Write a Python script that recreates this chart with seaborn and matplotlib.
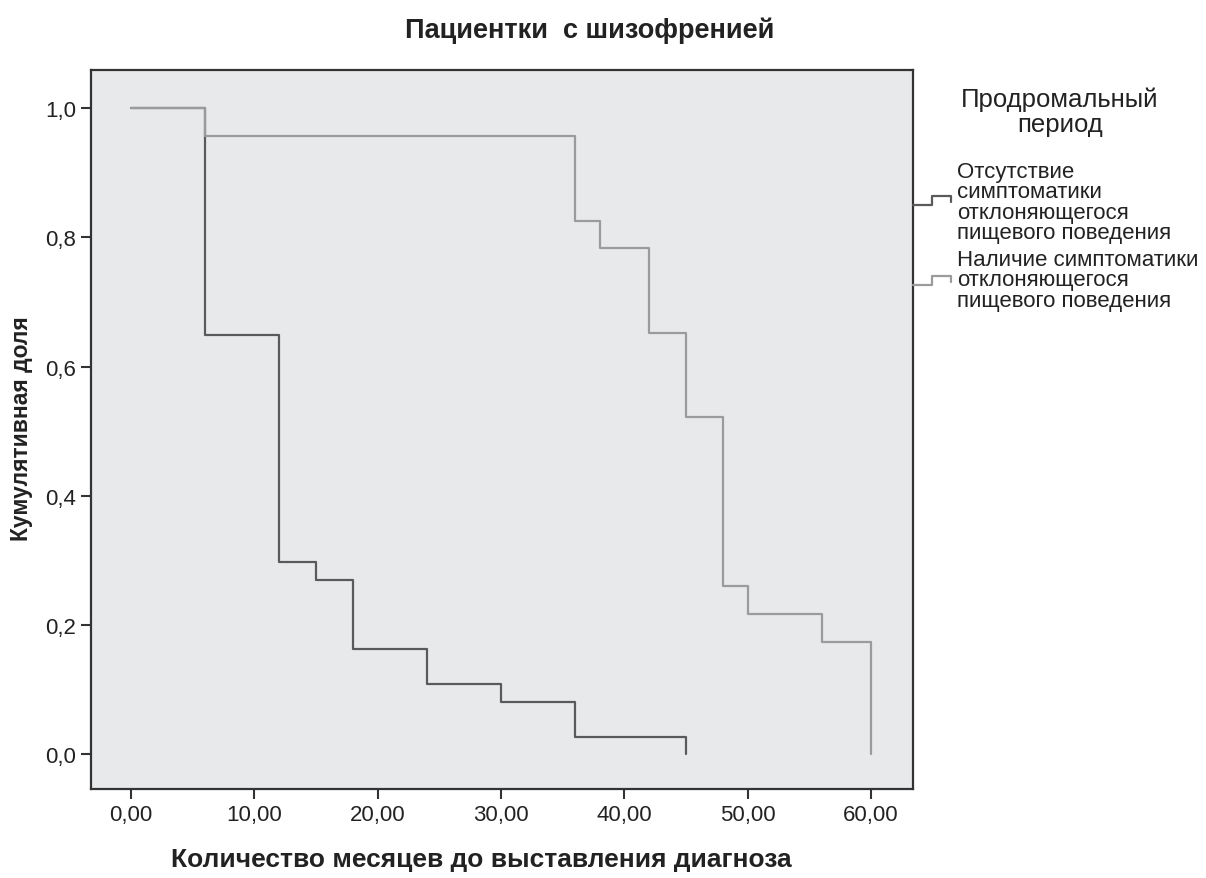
import pandas as pd
import numpy as np
import seaborn as sns
import matplotlib.pyplot as plt
from matplotlib.lines import Line2D

# ── data (Kaplan-Meier style cumulative share) ────────────────────────────────
groups = ["Отсутствие симптоматики\nотклоняющегося\nпищевого поведения",
          "Наличие симптоматики\nотклоняющегося\nпищевого поведения"]

absent_months = [0, 6, 12, 15, 18, 24, 30, 36, 45]
absent_share = [1.0, 0.649, 0.297, 0.270, 0.162, 0.108, 0.081, 0.027, 0.0]

present_months = [0, 6, 36, 38, 42, 45, 48, 50, 56, 60]
present_share = [1.0, 0.957, 0.826, 0.783, 0.652, 0.522, 0.261, 0.217, 0.174, 0.0]

x_ticks = [0, 10, 20, 30, 40, 50, 60]
y_ticks = [0.0, 0.2, 0.4, 0.6, 0.8, 1.0]

legend_labels = ["Отсутствие\nсимптоматики\nотклоняющегося\nпищевого поведения",
                 "Наличие симптоматики\nотклоняющегося\nпищевого поведения"]

df = pd.concat([
    pd.DataFrame({"month": absent_months, "share": absent_share, "group": groups[0]}),
    pd.DataFrame({"month": present_months, "share": present_share, "group": groups[1]}),
], ignore_index=True)

# ── style ─────────────────────────────────────────────────────────────────────
sns.set_style("white")
plt.rcParams['font.family'] = ['Liberation Sans', 'DejaVu Sans']

W, H = 1206, 879
fig = plt.figure(figsize=(W / 100, H / 100), dpi=100)

def fx(px):
    return px / W

def fy(py):
    return 1 - py / H

# axes box in pixels: left 91, right 913, top 71, bottom 790
ax = fig.add_axes([fx(91), fy(790), fx(913) - fx(91), fy(71) - fy(790)])
ax.set_facecolor("#e8e9eb")

colors = ["#5a5a5a", "#9b9b9b"]
sns.lineplot(data=df, x="month", y="share", hue="group", hue_order=groups,
             palette=colors, estimator=None, sort=False,
             drawstyle="steps-post", linewidth=1.6, legend=False, ax=ax)

ax.set_xlim(-3.24, 63.4)
ax.set_ylim(-0.054, 1.059)
ax.set_xticks(x_ticks)
ax.set_xticklabels([f"{v:.2f}".replace(".", ",") for v in x_ticks])
ax.set_yticks(y_ticks)
ax.set_yticklabels([f"{v:.1f}".replace(".", ",") for v in y_ticks])
ax.tick_params(axis="both", direction="out", length=7.5, width=1.5,
               color="#333333", labelsize=16, labelcolor="#222222", pad=3,
               left=True, bottom=True)

for s in ax.spines.values():
    s.set_color("#333333")
    s.set_linewidth(1.6)
    s.set_visible(True)

ax.set_xlabel("Количество месяцев до выставления диагноза",
              fontsize=19, fontweight="bold", color="#222222")
ax.xaxis.set_label_coords((481 - 91) / 822, (790 - 848) / 719)
ax.set_ylabel("Кумулятивная доля", fontsize=16.5, fontweight="bold", color="#222222")
ax.yaxis.set_label_coords((33 - 91) / 822, (790 - 429) / 719)

fig.text(fx(590), fy(31), "Пациентки  с шизофренией", ha="center", va="center",
         fontsize=19.5, fontweight="bold", color="#222222")

# ── legend drawn by hand next to the box ─────────────────────────────────────
fig.text(fx(1060), fy(87), "Продромальный\nпериод", ha="center", va="top",
         fontsize=18.5, linespacing=1.1, color="#222222")

label_tops = [162, 250]
handle_y = [(206, 197, 203), (286, 277, 283)]
for label, col, top, (lo, hi, end) in zip(legend_labels, colors, label_tops, handle_y):
    fig.text(fx(957), fy(top), label, ha="left", va="top", fontsize=16,
             linespacing=0.96, color="#222222")
    xs = [fx(913), fx(932), fx(932), fx(951), fx(951)]
    ys = [fy(lo), fy(lo), fy(hi), fy(hi), fy(end)]
    fig.add_artist(Line2D(xs, ys, color=col, linewidth=1.6,
                          transform=fig.transFigure))

fig.savefig("out.png", dpi=100, facecolor="white")
